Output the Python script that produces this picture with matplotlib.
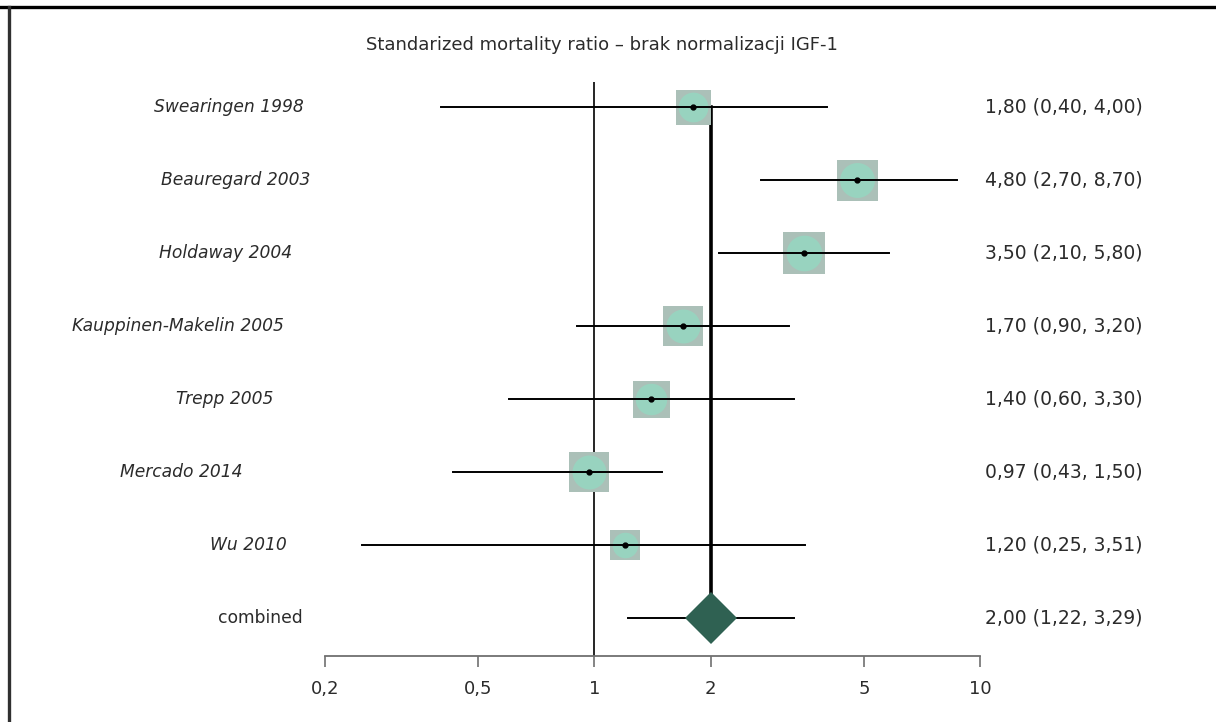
import matplotlib.pyplot as plt
from matplotlib.lines import Line2D
from matplotlib.transforms import blended_transform_factory

# forest plot: SMR per study, no IGF-1 normalisation
STUDIES = [
    "Swearingen 1998",
    "Beauregard 2003",
    "Holdaway 2004",
    "Kauppinen-Makelin 2005",
    "Trepp 2005",
    "Mercado 2014",
    "Wu 2010",
    "combined"
]

SMR = [1.80, 4.80, 3.50, 1.70, 1.40, 0.97, 1.20, 2.00]
CI_LOW = [0.40, 2.70, 2.10, 0.90, 0.60, 0.43, 0.25, 1.22]
CI_HIGH = [4.00, 8.70, 5.80, 3.20, 3.30, 1.50, 3.51, 3.29]

# relative study weights (box size)
WEIGHTS = [35, 41, 42, 40, 37, 40, 30]

X_TICKS = [0.2, 0.5, 1, 2, 5, 10]
X_TICK_LABELS = ["0,2", "0,5", "1", "2", "5", "10"]

TITLE = "Standarized mortality ratio \u2013 brak normalizacji IGF-1"

# horizontal centre of each study label, in pixels
LABEL_CENTERS = [229, 236, 226, 178, 225, 181, 248, 260]

W, H = 1216, 722
TEXT_COLOR = "#2b2b2b"


def fmt(v):
    return f"{v:.2f}".replace(".", ",")


fig = plt.figure(figsize=(W / 100, H / 100), dpi=100)
ax = fig.add_axes([325 / W, 1 - 656 / H, (980 - 325) / W, (656 - 82) / H])

n_rows = len(STUDIES)
rows = list(range(n_rows))
last = rows[-1]

ax.set_xscale("log")
ax.set_xlim(0.2, 10)
ax.set_ylim(7.52, -0.342)

# reference line at SMR = 1
ax.axvline(1, color="black", lw=1.2, zorder=1)

# pooled estimate line down to the diamond
ax.plot([SMR[-1], SMR[-1]], [0, 6.70], color="black", lw=2.6, zorder=1)

for i in rows[:-1]:
    ax.plot([CI_LOW[i], CI_HIGH[i]], [i, i], color="black", lw=1.4, zorder=3)
    ms = WEIGHTS[i] * 0.72
    ax.plot(SMR[i], i, marker="s", ms=ms, color="#abc0b8",
            markeredgewidth=0, zorder=2)
    ax.plot(SMR[i], i, marker="o", ms=ms * 0.85, color="#96d6c0",
            markeredgewidth=0, alpha=0.9, zorder=2)
    ax.plot(SMR[i], i, marker="o", ms=3.5, color="black", zorder=4)

ax.plot([CI_LOW[last], CI_HIGH[last]], [last, last], color="black", lw=1.4, zorder=3)
ax.plot(SMR[last], last, marker="D", ms=26, color="#2f6152",
        markeredgewidth=0, zorder=4)

for side in ["top", "right", "left"]:
    ax.spines[side].set_visible(False)
ax.spines["bottom"].set_color("#707070")
ax.spines["bottom"].set_linewidth(1.3)

ax.set_yticks([])
ax.set_xticks(X_TICKS)
ax.set_xticklabels(X_TICK_LABELS)
ax.minorticks_off()
ax.tick_params(axis="x", length=8, width=1.2, color="#707070",
               labelsize=13, labelcolor=TEXT_COLOR, pad=9)

trans = blended_transform_factory(fig.transFigure, ax.transData)
for i, name in enumerate(STUDIES):
    style = "normal" if i == last else "italic"
    fig.text(LABEL_CENTERS[i] / W, i, name, transform=trans,
             ha="center", va="center", fontsize=12.3, style=style,
             color=TEXT_COLOR)
    fig.text(985 / W, i, f"{fmt(SMR[i])} ({fmt(CI_LOW[i])}, {fmt(CI_HIGH[i])})",
             transform=trans, ha="left", va="center", fontsize=13.5,
             color=TEXT_COLOR)

fig.text(602 / W, 1 - 45 / H, TITLE, ha="center", va="center",
         fontsize=13, color=TEXT_COLOR)

# frame lines along top and left edges
fig.add_artist(Line2D([0, 1], [1 - 7 / H, 1 - 7 / H], color="black", lw=2.4,
                      transform=fig.transFigure))
fig.add_artist(Line2D([9 / W, 9 / W], [0, 1 - 7 / H], color="#303030", lw=2.4,
                      transform=fig.transFigure))

fig.savefig("out.png", dpi=100)
